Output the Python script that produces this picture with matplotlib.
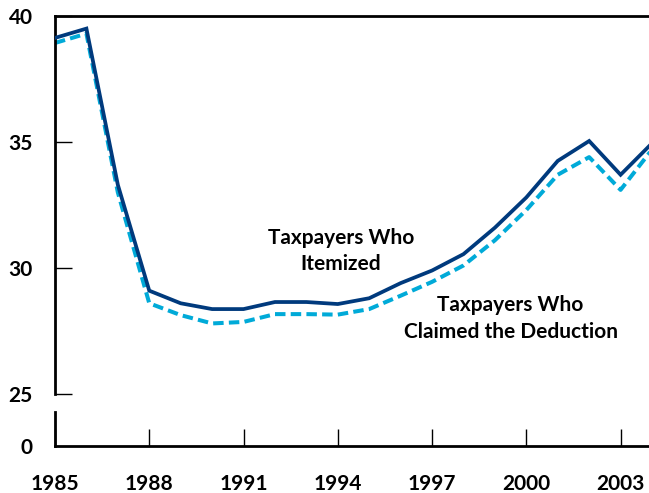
import matplotlib.pyplot as plt

years = list(range(1985, 2005))
itemized = [39.13, 39.5, 33.3, 29.1, 28.6, 28.37, 28.37, 28.65, 28.65, 28.57,
            28.8, 29.4, 29.9, 30.55, 31.6, 32.8, 34.25, 35.04, 33.7, 34.95]
claimed = [38.93, 39.3, 33.0, 28.6, 28.13, 27.8, 27.86, 28.17, 28.17, 28.15,
           28.37, 28.9, 29.45, 30.1, 31.1, 32.3, 33.7, 34.4, 33.1, 34.7]
xticks = [1985, 1988, 1991, 1994, 1997, 2000, 2003]

plt.rcParams['font.family'] = ['Lato', 'DejaVu Sans']
plt.rcParams['font.weight'] = 'bold'

W, H = 649, 493
fig = plt.figure(figsize=(W / 100, H / 100), dpi=100)

left = 55 / W
width = (652 - 55) / W
ax = fig.add_axes([left, 1 - 394 / H, width, (394 - 16) / H])
ax2 = fig.add_axes([left, 1 - 446 / H, width, (446 - 412) / H])

navy = '#003a7d'
light = '#00aad8'

ax.plot(years, itemized, color=navy, lw=2.7, solid_joinstyle='miter', zorder=3)
ax.plot(years, claimed, color=light, lw=2.9, dashes=(2.6, 1.3), zorder=2)
ax.set_xlim(1985, 2004)
ax.set_ylim(25, 40)
ax.set_yticks([25, 30, 35, 40])
ax.set_xticks([])
for s in ['right', 'bottom']:
    ax.spines[s].set_visible(False)
for s in ['top', 'left']:
    ax.spines[s].set_linewidth(2)
ax.tick_params(axis='y', direction='in', length=12, width=1, pad=16, labelsize=15)
ax.patch.set_alpha(0)

ax.text(1994.1, 30.67, 'Taxpayers Who\nItemized', ha='center', va='center',
        fontsize=15, fontweight='bold', linespacing=1.4)
ax.text(1999.5, 28.0, 'Taxpayers Who\nClaimed the Deduction', ha='center',
        va='center', fontsize=15, fontweight='bold', linespacing=1.4)

ax2.set_xlim(1985, 2004)
ax2.set_ylim(0, 1)
ax2.set_yticks([0])
ax2.set_yticklabels(['0'])
ax2.set_xticks(xticks)
for s in ['right', 'top']:
    ax2.spines[s].set_visible(False)
for s in ['bottom', 'left']:
    ax2.spines[s].set_linewidth(2)
ax2.tick_params(axis='x', direction='in', length=12, width=1, pad=20, labelsize=15)
ax2.tick_params(axis='y', length=0, pad=16, labelsize=15)
ax2.patch.set_alpha(0)

fig.savefig('out.png', dpi=100)
